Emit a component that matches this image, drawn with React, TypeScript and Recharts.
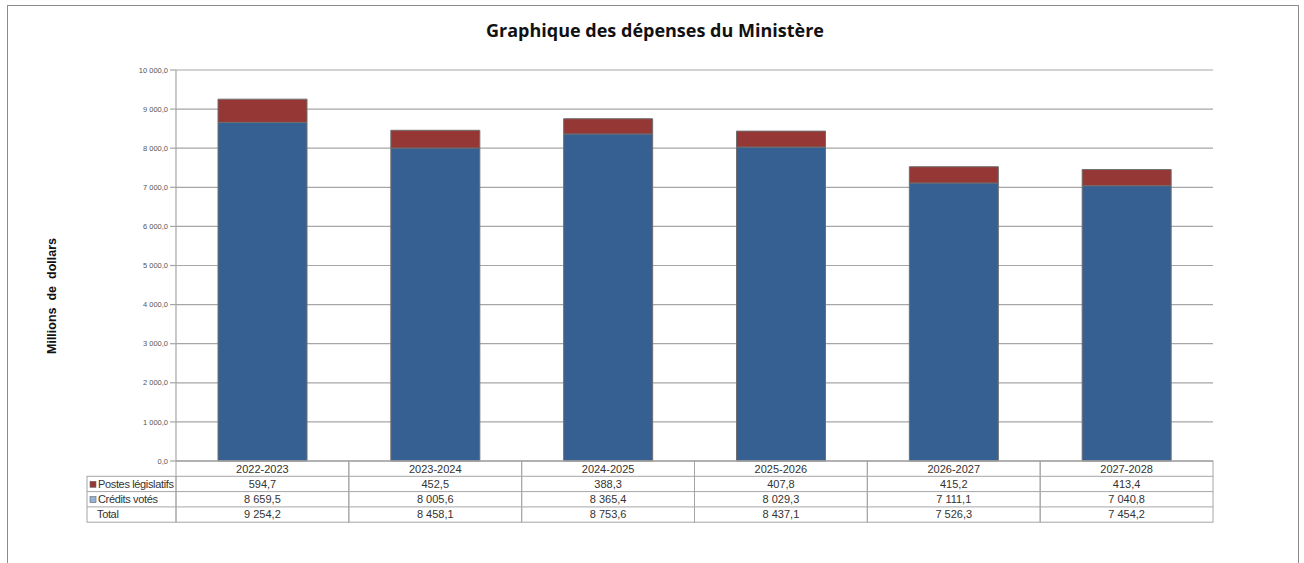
import React from 'react';
import { BarChart, Bar, XAxis, YAxis, CartesianGrid, Customized } from 'recharts';

const years = ['2022-2023', '2023-2024', '2024-2025', '2025-2026', '2026-2027', '2027-2028'];
const postesLegislatifs = [594.7, 452.5, 388.3, 407.8, 415.2, 413.4];
const creditsVotes = [8659.5, 8005.6, 8365.4, 8029.3, 7111.1, 7040.8];
const totals = [9254.2, 8458.1, 8753.6, 8437.1, 7526.3, 7454.2];
const yTicks = [0, 1000, 2000, 3000, 4000, 5000, 6000, 7000, 8000, 9000, 10000];

const BLUE = '#366092';
const RED = '#953735';
const GRID = '#a6a6a6';
const TEXT = '#333333';

const data = years.map((y, i) => ({
  year: y,
  credits: creditsVotes[i],
  postes: postesLegislatifs[i],
  total: totals[i],
}));

// french number format: "8 659,5"
const fmt = (v: number) => {
  const [int, dec] = v.toFixed(1).split('.');
  return int.replace(/\B(?=(\d{3})+(?!\d))/g, ' ') + ',' + dec;
};

const ROW = 15.3;
const rows = [
  { key: 'postes', label: 'Postes législatifs', color: RED },
  { key: 'credits', label: 'Crédits votés', color: '#95b3d7' },
  { key: 'total', label: 'Total', color: null },
];

const TableColumn = (props: any) => {
  const { x, y, payload, index } = props;
  const colW = 1037 / years.length;
  const d = data[index ?? payload.index];
  const top = y - 8;
  return (
    <g>
      <rect x={x - colW / 2} y={top} width={colW} height={ROW * 4} fill="none" stroke={GRID} />
      {[1, 2, 3].map((r) => (
        <line key={r} x1={x - colW / 2} x2={x + colW / 2} y1={top + ROW * r} y2={top + ROW * r} stroke={GRID} />
      ))}
      <text x={x} y={top + 11.5} textAnchor="middle" fontSize={11} fill={TEXT}>
        {payload.value}
      </text>
      {rows.map((r, i) => (
        <text key={r.key} x={x} y={top + ROW * (i + 1) + 11.5} textAnchor="middle" fontSize={11} fill={TEXT}>
          {fmt((d as any)[r.key])}
        </text>
      ))}
    </g>
  );
};

const LabelColumn = (props: any) => {
  const offset = props.offset;
  const left = 87;
  const right = offset ? offset.left : 176;
  const top = (offset ? offset.top + offset.height : 461) + ROW;
  return (
    <g>
      <rect x={left} y={top} width={right - left} height={ROW * 3} fill="none" stroke={GRID} />
      {[1, 2].map((r) => (
        <line key={r} x1={left} x2={right} y1={top + ROW * r} y2={top + ROW * r} stroke={GRID} />
      ))}
      {rows.map((r, i) => (
        <g key={r.key}>
          {r.color && (
            <rect x={left + 3} y={top + ROW * i + 5} width={6} height={6} fill={r.color} stroke="#666" strokeWidth={0.6} />
          )}
          <text x={left + (r.color ? 11 : 10)} y={top + ROW * i + 11.5} fontSize={11} letterSpacing={-0.35} fill={TEXT}>
            {r.label}
          </text>
        </g>
      ))}
    </g>
  );
};

export default function App() {
  return (
    <div style={{ position: 'absolute', top: 0, left: 0, width: 1304, height: 563, background: '#fff', fontFamily: 'Liberation Sans, Arial, sans-serif' }}>
      <div style={{ position: 'absolute', left: 7, top: 5, width: 1290, height: 600, border: '1px solid #8c8c8c' }} />
      <div style={{ position: 'absolute', left: 0, top: 18, width: 1310, textAlign: 'center', fontFamily: 'Open Sans, sans-serif', fontWeight: 700, fontSize: 18, color: '#111' }}>
        Graphique des dépenses du Ministère
      </div>
      <div style={{ position: 'absolute', left: 52, top: 296, transform: 'translate(-50%, -50%) rotate(-90deg)', whiteSpace: 'pre', fontWeight: 700, fontSize: 12.5, color: '#111' }}>
        {'Millions  de  dollars'}
      </div>
      <BarChart
        width={1304}
        height={563}
        data={data}
        margin={{ top: 70, right: 91, left: 0, bottom: 40 }}
        style={{ position: 'absolute', top: 0, left: 0 }}
      >
        <CartesianGrid vertical={false} stroke={GRID} strokeWidth={1.2} />
        <YAxis
          width={176}
          domain={[0, 10000]}
          ticks={yTicks}
          tickFormatter={fmt}
          tick={{ fontSize: 7.5, fill: '#555' }}
          axisLine={{ stroke: GRID, strokeWidth: 1.2 }}
          tickLine={{ stroke: GRID, strokeWidth: 1.2 }}
          tickSize={6}
          tickMargin={2}
        />
        <XAxis
          dataKey="year"
          height={62}
          axisLine={{ stroke: GRID }}
          tickLine={false}
          tick={<TableColumn />}
          interval={0}
        />
        <Bar dataKey="credits" stackId="a" fill={BLUE} stroke="#6f6f6f" strokeWidth={1} barSize={89} isAnimationActive={false} />
        <Bar dataKey="postes" stackId="a" fill={RED} stroke="#6f6f6f" strokeWidth={1} barSize={89} isAnimationActive={false} />
        <Customized component={LabelColumn} />
      </BarChart>
    </div>
  );
}
